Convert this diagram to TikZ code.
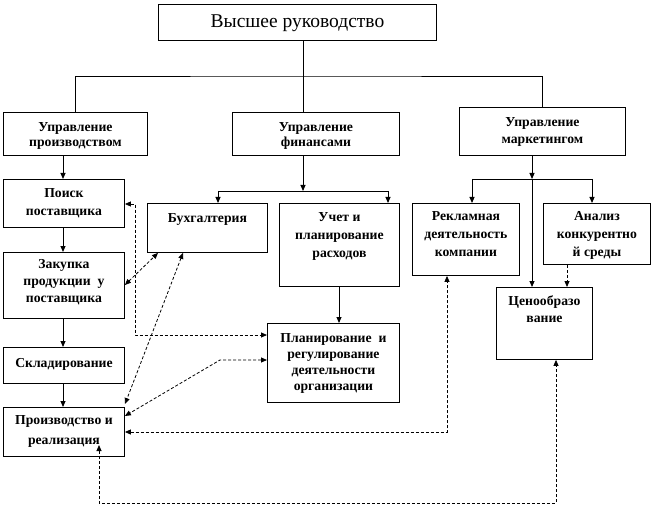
\documentclass[tikz,border=0pt]{standalone}
\usepackage{fontspec}
\setmainfont{Liberation Serif}
\usetikzlibrary{arrows.meta}
\newcommand\bxt[5]{\begin{minipage}[c][#2pt][t]{#1pt}\centering\baselineskip=#4pt\rule{0pt}{#3pt}#5\par\end{minipage}}
\tikzset{
  box/.style={draw, line width=0.9pt, inner sep=0pt, anchor=north west, font=\bfseries\fontsize{13.7}{16}\selectfont},
  con/.style={line width=0.9pt, -{Triangle[length=6pt,width=5pt]}},
  ln/.style={line width=0.9pt},
  dsh/.style={line width=0.8pt, dash pattern=on 3pt off 2pt, {Triangle[length=6pt,width=5pt]}-{Triangle[length=6pt,width=5pt]}},
  dsh1/.style={line width=0.8pt, dash pattern=on 3pt off 2pt, -{Triangle[length=6pt,width=5pt]}}
}
\begin{document}
\begin{tikzpicture}[x=1pt,y=-1pt]
\useasboundingbox[fill=white] (0,0) rectangle (653,505);
% top
\node[box, font=\fontsize{19.5}{22}\selectfont] (top) at (158,4) {\bxt{278}{36}{23}{20}{Высшее руководство}};
% row 2
\node[box] (prod) at (3,112) {\bxt{144}{43}{19}{15}{Управление\\производством}};
\node[box] (fin) at (232,112) {\bxt{167}{43}{19}{15}{Управление\\финансами}};
\node[box] (mark) at (459,107) {\bxt{166}{48}{19}{17}{Управление\\маркетингом}};
% production column
\node[box] (poisk) at (3,179) {\bxt{121}{48}{18}{18}{Поиск\\поставщика}};
\node[box] (zak) at (3,252) {\bxt{121}{66}{16}{17}{Закупка\\продукции \ у\\поставщика}};
\node[box] (skl) at (3,347) {\bxt{121}{36}{20}{16}{Складирование}};
\node[box] (pr) at (3,407) {\bxt{121}{49}{17}{20}{Производство и\\реализация}};
% finance
\node[box] (buh) at (147,203) {\bxt{120}{49}{19}{16}{Бухгалтерия}};
\node[box] (uch) at (279,203) {\bxt{120}{83}{18}{18}{Учет и\\планирование\\расходов}};
\node[box] (plan) at (267,323) {\bxt{132}{79}{19}{16}{Планирование \ и\\регулирование\\деятельности\\организации}};
% marketing
\node[box] (rek) at (412,203) {\bxt{107}{72}{17}{18}{Рекламная\\деятельность\\компании}};
\node[box] (an) at (543,203) {\bxt{107}{61}{17}{18}{Анализ\\конкурентно\\й среды}};
\node[box] (cen) at (496,287) {\bxt{96}{72}{18}{17}{Ценообразо\\вание}};
% tree connectors
\coordinate (h1) at (303,76);
\draw[ln] (top.south -| h1) -- (fin.north -| h1);
\draw[ln] (prod.north) |- (h1) -| (mark.north);
\coordinate (fj) at (303,191);
\draw[con] (fin.south -| fj) -- (fj);
\draw[ln] (218,191) -- (388,191);
\draw[con] (218,191) -- (buh.north -| 218,0);
\draw[con] (388,191) -- (uch.north -| 388,0);
\coordinate (mj) at (532,179);
\draw[con] (mark.south -| mj) -- (mj);
\draw[ln] (472,179) -- (592,179);
\draw[con] (472,179) -- (rek.north -| 472,0);
\draw[con] (592,179) -- (an.north -| 592,0);
\draw[con] (mj) -- (cen.north -| mj);
\draw[con] (prod.south -| 63,0) -- (poisk.north -| 63,0);
\draw[con] (poisk.south -| 63,0) -- (zak.north -| 63,0);
\draw[con] (zak.south -| 63,0) -- (skl.north -| 63,0);
\draw[con] (skl.south -| 63,0) -- (pr.north -| 63,0);
\draw[con] (uch.south -| 339,0) -- (plan.north -| 339,0);
% dashed connectors
\draw[dsh1] (an.south -| 567,0) -- (cen.north -| 567,0);
\draw[dsh] (poisk.east |- 0,204) -- (135,204) -- (135,335) -- (plan.west |- 0,335);
\draw[dsh] (zak.east |- 0,285) -- (buh.south -| 158,0);
\draw[dsh] (buh.south -| 183,0) -- (125,404);
\draw[dsh] (plan.west |- 0,360) -- (220,360) -- (pr.east |- 0,416);
\draw[dsh] (pr.east |- 0,432) -- (447,432) -- (rek.south -| 447,0);
\draw[dsh] (99,445) -- (99,503) -- (556,503) -- (cen.south -| 556,0);
\end{tikzpicture}
\end{document}
